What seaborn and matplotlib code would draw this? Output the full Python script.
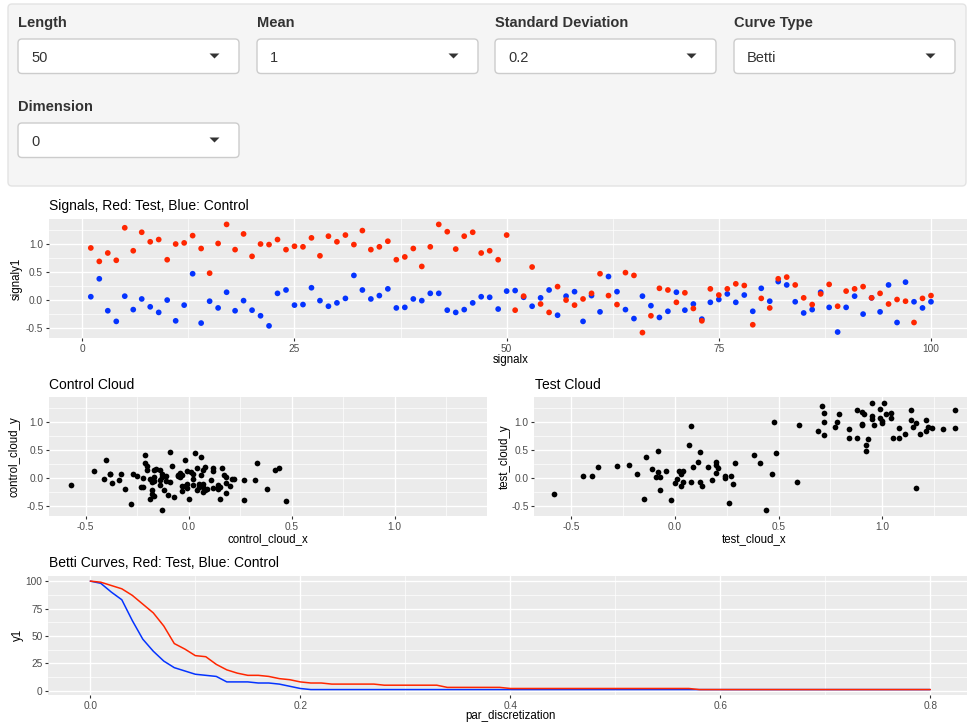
import numpy as np
import pandas as pd
import matplotlib
matplotlib.use("Agg")
import matplotlib.pyplot as plt
import seaborn as sns
from matplotlib.patches import FancyBboxPatch, Polygon

# ---------------- data ----------------
signal_x = list(range(1, 101))
test_signal = [
    0.93, 0.69, 0.84, 0.71, 1.29, 0.88, 1.21, 1.04, 1.08, 0.72,
    1.00, 1.02, 1.15, 0.92, 0.48, 1.01, 1.35, 0.90, 1.18, 0.78,
    1.00, 0.99, 1.08, 0.90, 0.96, 0.95, 1.11, 0.79, 1.14, 1.04,
    1.16, 0.99, 1.24, 0.90, 0.95, 1.05, 0.72, 0.77, 0.92, 0.60,
    0.95, 1.35, 1.22, 0.91, 1.14, 1.21, 0.84, 0.88, 0.72, 1.16,
    -0.18, 0.07, 0.59, -0.07, -0.22, 0.24, 0.00, -0.09, 0.02, 0.12,
    0.47, 0.08, -0.08, 0.49, 0.44, -0.58, -0.28, 0.21, 0.18, -0.04,
    0.13, -0.15, -0.37, 0.20, 0.09, 0.20, 0.29, 0.26, -0.44, 0.03,
    -0.14, 0.38, 0.41, 0.27, 0.04, -0.08, 0.11, 0.28, -0.11, 0.16,
    0.20, 0.24, 0.04, 0.12, -0.07, 0.01, -0.02, -0.40, 0.03, 0.08,
]
control_signal = [
    0.06, 0.38, -0.19, -0.38, 0.07, -0.17, 0.02, -0.12, -0.22, 0.00,
    -0.37, -0.09, 0.47, -0.41, -0.02, -0.14, 0.14, -0.19, -0.01, -0.18,
    -0.28, -0.46, 0.12, 0.18, -0.09, -0.08, 0.22, -0.01, -0.11, -0.05,
    0.03, 0.44, 0.18, 0.02, 0.08, 0.20, -0.14, -0.13, 0.02, -0.01,
    0.12, 0.12, -0.18, -0.22, -0.17, -0.05, 0.06, 0.05, -0.16, 0.16,
    0.17, 0.05, -0.11, 0.04, 0.18, -0.27, 0.07, 0.15, -0.38, 0.08,
    -0.21, 0.42, 0.15, -0.17, -0.33, 0.07, -0.10, -0.31, -0.20, 0.14,
    -0.18, -0.07, -0.34, -0.04, 0.01, 0.11, -0.04, 0.09, -0.20, 0.21,
    -0.02, 0.33, 0.27, -0.03, -0.23, -0.17, 0.14, -0.13, -0.57, -0.13,
    0.07, -0.25, 0.04, -0.21, 0.27, -0.40, 0.32, -0.03, -0.14, -0.03,
]
# delay-embedded point clouds: (s[i], s[i+1]) with wrap-around
control_cloud_x = control_signal
control_cloud_y = control_signal[1:] + control_signal[:1]
test_cloud_x = test_signal
test_cloud_y = test_signal[1:] + test_signal[:1]

par_discretization = [i / 100 for i in range(81)]
betti_test = ([100, 99, 96, 93, 87, 79, 71, 59, 43, 38,
               32, 31, 24, 19, 16, 14, 14, 13, 11, 10,
               8, 7, 7, 6, 6, 6, 6, 6, 5, 5,
               5, 5, 5, 5, 3, 3, 3, 3, 3, 3]
              + [2] * 18 + [1] * 23)
betti_control = ([100, 98, 90, 83, 64, 47, 36, 27, 21, 18,
                  15, 14, 13, 8, 8, 8, 7, 7, 6, 4,
                  2] + [1] * 60)

ui_labels = ["Length", "Mean", "Standard Deviation", "Curve Type", "Dimension"]
ui_values = ["50", "1", "0.2", "Betti", "0"]

RED = "#FF2600"
BLUE = "#0433FF"

# ---------------- style ----------------
sns.set_style("darkgrid", {"axes.facecolor": "#EBEBEB", "grid.color": "white"})
plt.rcParams["font.family"] = ["Liberation Sans", "DejaVu Sans"]

W, H = 967, 726
fig = plt.figure(figsize=(W / 100, H / 100), dpi=100)
fig.patch.set_facecolor("white")


def rect(l, t, r, b):
    return [l / W, 1 - b / H, (r - l) / W, (b - t) / H]


ov = fig.add_axes([0, 0, 1, 1], zorder=-5)
ov.set_xlim(0, W)
ov.set_ylim(H, 0)
ov.axis("off")
ov.patch.set_visible(False)

# ---------------- UI well ----------------
ov.add_patch(FancyBboxPatch((8, 4), 958, 182, boxstyle="round,pad=0,rounding_size=4",
                            fc="#F5F5F5", ec="#E3E3E3", lw=1))
box_pos = [(18, 39), (257, 39), (495, 39), (734, 39), (18, 123)]
for (bx, by), lab, val in zip(box_pos, ui_labels, ui_values):
    ov.text(bx, by - 12, lab, fontsize=10.5, fontweight="bold", color="#333333",
            va="baseline", ha="left")
    ov.add_patch(FancyBboxPatch((bx, by), 221, 34.5, boxstyle="round,pad=0,rounding_size=4",
                                fc="white", ec="#CCCCCC", lw=1))
    ov.text(bx + 13, by + 23, val, fontsize=10.5, color="#333333", va="baseline", ha="left")
    ax_r = bx + 221 - 24.5
    ov.add_patch(Polygon([(ax_r - 5, by + 14.5), (ax_r + 5, by + 14.5), (ax_r, by + 19.5)],
                         closed=True, fc="#333333", ec="none"))


def style(ax, xt, xl, xmin, yt, yl, ymin):
    for s in ax.spines.values():
        s.set_visible(False)
    ax.set_facecolor("#EBEBEB")
    ax.set_xticks(xt)
    ax.set_xticklabels(xl)
    ax.set_yticks(yt)
    ax.set_yticklabels(yl)
    ax.set_xticks(xmin, minor=True)
    ax.set_yticks(ymin, minor=True)
    ax.grid(which="major", color="white", lw=1.0)
    ax.grid(which="minor", color="white", lw=0.5)
    ax.tick_params(which="major", bottom=True, left=True, length=2.2, width=0.8,
                   color="#333333", labelsize=7.3, labelcolor="#4D4D4D", pad=2.0)
    ax.tick_params(which="minor", bottom=False, left=False, length=0)
    ax.set_xlabel("")
    ax.set_ylabel("")
    ax.set_axisbelow(True)


def lims(vals):
    lo, hi = min(vals), max(vals)
    p = (hi - lo) * 0.05
    return lo - p, hi + p


# ---------------- Signals ----------------
ax1 = fig.add_axes(rect(48.8, 219, 973, 338))
sig_df = pd.DataFrame({
    "signalx": signal_x + signal_x,
    "signaly1": control_signal + test_signal,
    "group": ["Control"] * 100 + ["Test"] * 100,
})
sns.scatterplot(data=sig_df, x="signalx", y="signaly1", hue="group",
                palette={"Control": BLUE, "Test": RED}, s=17, linewidth=0,
                legend=False, ax=ax1)
ax1.set_xlim(*lims(signal_x))
ax1.set_ylim(*lims(control_signal + test_signal))
style(ax1, [0, 25, 50, 75, 100], ["0", "25", "50", "75", "100"], [12.5, 37.5, 62.5, 87.5],
      [-0.5, 0, 0.5, 1.0], ["-0.5", "0.0", "0.5", "1.0"], [-0.25, 0.25, 0.75, 1.25])

# ---------------- Clouds ----------------
cl = lims(control_cloud_x + test_cloud_x)
cticks = [-0.5, 0, 0.5, 1.0]
clabels = ["-0.5", "0.0", "0.5", "1.0"]
cminor = [-0.25, 0.25, 0.75, 1.25]

ax2 = fig.add_axes(rect(49.3, 397.3, 486.7, 515.7))
cc_df = pd.DataFrame({"control_cloud_x": control_cloud_x, "control_cloud_y": control_cloud_y})
sns.scatterplot(data=cc_df, x="control_cloud_x", y="control_cloud_y", color="black",
                s=17, linewidth=0, ax=ax2)
ax2.set_xlim(*cl)
ax2.set_ylim(*cl)
style(ax2, cticks, clabels, cminor, cticks, clabels, cminor)

ax3 = fig.add_axes(rect(534.3, 397.3, 975, 515.7))
tc_df = pd.DataFrame({"test_cloud_x": test_cloud_x, "test_cloud_y": test_cloud_y})
sns.scatterplot(data=tc_df, x="test_cloud_x", y="test_cloud_y", color="black",
                s=17, linewidth=0, ax=ax3)
ax3.set_xlim(*cl)
ax3.set_ylim(*cl)
style(ax3, cticks, clabels, cminor, cticks, clabels, cminor)

# ---------------- Betti ----------------
ax4 = fig.add_axes(rect(48.3, 575.7, 972.3, 695))
b_df = pd.DataFrame({
    "par_discretization": par_discretization + par_discretization,
    "y1": betti_control + betti_test,
    "group": ["Control"] * 81 + ["Test"] * 81,
})
sns.lineplot(data=b_df, x="par_discretization", y="y1", hue="group",
             hue_order=["Control", "Test"], palette={"Control": BLUE, "Test": RED},
             lw=1.1, estimator=None, legend=False, ax=ax4)
ax4.set_xlim(*lims(par_discretization))
ax4.set_ylim(*lims(betti_control + betti_test))
style(ax4, [0, 0.2, 0.4, 0.6, 0.8], ["0.0", "0.2", "0.4", "0.6", "0.8"], [0.1, 0.3, 0.5, 0.7],
      [0, 25, 50, 75, 100], ["0", "25", "50", "75", "100"], [12.5, 37.5, 62.5, 87.5])

# ---------------- titles & axis labels ----------------
tkw = dict(fontsize=10, color="black", va="baseline", ha="left")
ov.text(49, 210, "Signals, Red: Test, Blue: Control", **tkw)
ov.text(49.3, 389.3, "Control Cloud", **tkw)
ov.text(535, 389.3, "Test Cloud", **tkw)
ov.text(49.3, 567, "Betti Curves, Red: Test, Blue: Control", **tkw)

lkw = dict(fontsize=8.3, color="black", va="baseline", ha="center")
ov.text(511, 363, "signalx", **lkw)
ov.text(268, 542, "control_cloud_x", **lkw)
ov.text(754, 542, "test_cloud_x", **lkw)
ov.text(510, 719.3, "par_discretization", **lkw)

rkw = dict(fontsize=8.3, color="black", va="center", ha="center", rotation=90)
ov.text(16.7, 278.5, "signaly1", **rkw)
ov.text(15, 456.5, "control_cloud_y", **rkw)
ov.text(505, 456.5, "test_cloud_y", **rkw)
ov.text(18.3, 635, "y1", **rkw)

fig.savefig("out.png", dpi=100)
